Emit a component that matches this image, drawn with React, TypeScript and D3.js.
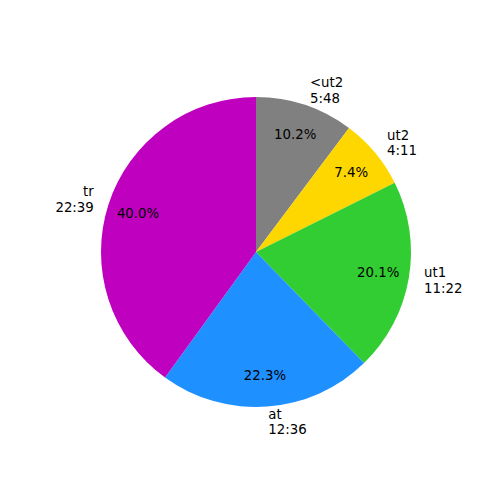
import React from "react";
import * as d3 from "d3";

const labels = ["<ut2", "ut2", "ut1", "at", "tr"];
const times = ["5:48", "4:11", "11:22", "12:36", "22:39"];
const minutes = [348, 251, 682, 756, 1359];
const colors = ["#808080", "#FFD700", "#32CD32", "#1E90FF", "#BF00BF"];

export default function App() {
  const W = 500, H = 500;
  const cx = 256, cy = 252, r = 155;
  const total = d3.sum(minutes);
  const pie = d3.pie<number>().sort(null).value((d) => d).startAngle(0).endAngle(2 * Math.PI);
  const arcs = pie(minutes);
  const arc = d3.arc<d3.PieArcDatum<number>>().innerRadius(0).outerRadius(r);
  const font = "DejaVu Sans, sans-serif";
  const fs = 13.33;
  const lh = 15.5;
  return (
    <svg width={W} height={H} style={{ position: "absolute", left: 0, top: 0 }}>
      <rect width={W} height={H} fill="#fff" />
      <g transform={`translate(${cx},${cy})`}>
        {arcs.map((a, i) => (
          <path key={i} d={arc(a) || ""} fill={colors[i]} />
        ))}
        {arcs.map((a, i) => {
          const mid = (a.startAngle + a.endAngle) / 2;
          const lx = 1.1 * r * Math.sin(mid);
          const ly = -1.1 * r * Math.cos(mid);
          const px = 0.8 * r * Math.sin(mid);
          const py = -0.8 * r * Math.cos(mid);
          const anchor = lx > 0 ? "start" : "end";
          return (
            <g key={i} fontFamily={font} fontSize={fs} fill="#000">
              <text x={lx} y={ly - lh / 2} textAnchor={anchor} dominantBaseline="central">{labels[i]}</text>
              <text x={lx} y={ly + lh / 2} textAnchor={anchor} dominantBaseline="central">{times[i]}</text>
              <text x={px} y={py} textAnchor="middle" dominantBaseline="central">
                {((100 * minutes[i]) / total).toFixed(1) + "%"}
              </text>
            </g>
          );
        })}
      </g>
    </svg>
  );
}
